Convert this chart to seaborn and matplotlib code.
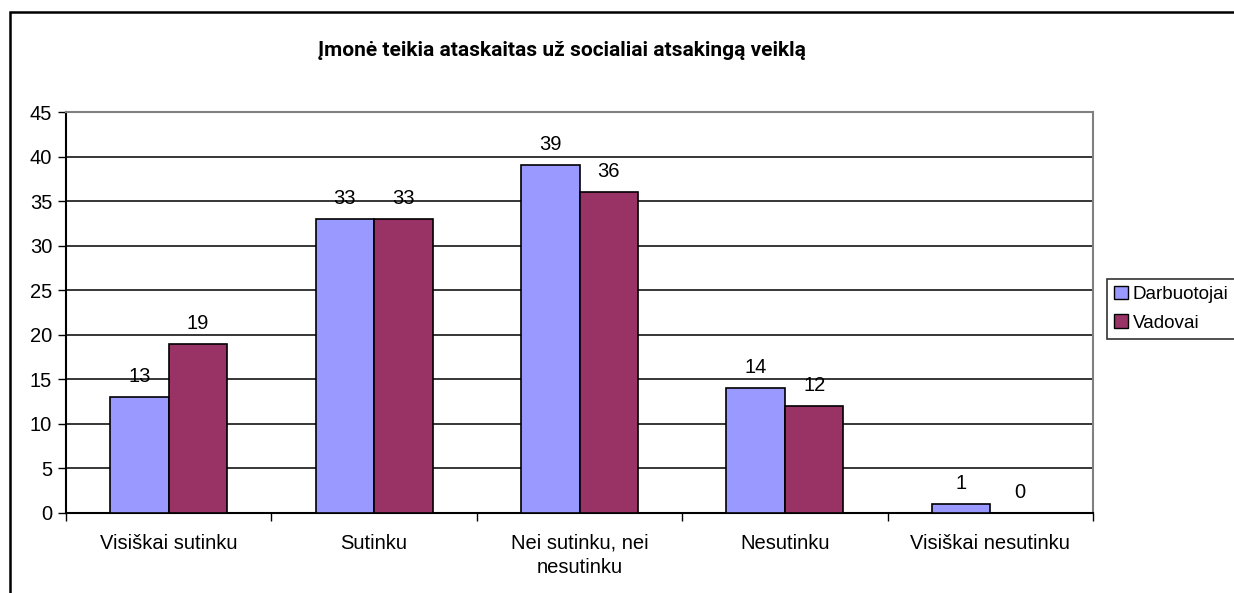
import matplotlib
matplotlib.use("Agg")
import matplotlib.pyplot as plt
import seaborn as sns
import pandas as pd
from matplotlib.patches import Rectangle

categories = ["Visiškai sutinku", "Sutinku", "Nei sutinku, nei\nnesutinku", "Nesutinku", "Visiškai nesutinku"]
darbuotojai = [13, 33, 39, 14, 1]
vadovai = [19, 33, 36, 12, 0]
series = ["Darbuotojai", "Vadovai"]
colors = ["#9999FF", "#993366"]
title = "Įmonė teikia ataskaitas už socialiai atsakingą veiklą"

df = pd.DataFrame({
    "cat": categories * 2,
    "val": darbuotojai + vadovai,
    "series": [series[0]] * len(categories) + [series[1]] * len(categories),
})

sns.set_style("white")
plt.rcParams["font.family"] = ["Liberation Sans", "DejaVu Sans"]
plt.rcParams["text.color"] = "black"
plt.rcParams["xtick.color"] = "black"
plt.rcParams["ytick.color"] = "black"
plt.rcParams["axes.labelcolor"] = "black"

W, H = 1234, 593
fig = plt.figure(figsize=(W / 100, H / 100), dpi=100)
ax = fig.add_axes([66 / W, 1 - 513 / H, (1093 - 66) / W, (513 - 112) / H])

sns.barplot(data=df, x="cat", y="val", hue="series", hue_order=series,
            palette=colors, order=categories, width=0.57, saturation=1,
            edgecolor="black", linewidth=1.2, ax=ax, legend=True, zorder=3)

ax.set_ylim(0, 45)
ax.set_xlim(-0.5, len(categories) - 0.5)
ax.set_yticks(range(0, 46, 5))
ax.tick_params(axis="y", labelsize=14.5, length=6, width=1, direction="out", left=True, colors="black", pad=4)
ax.set_xticks([i - 0.5 for i in range(len(categories) + 1)])
ax.set_xticklabels([])
ax.set_xticks(range(len(categories)), minor=True)
ax.set_xticklabels(categories, minor=True, fontsize=14.5, linespacing=1.35)
ax.tick_params(axis="x", which="major", length=6, width=1, direction="out", bottom=True, colors="black")
ax.tick_params(axis="x", which="minor", length=0, pad=15, colors="black")
ax.set_xlabel("")
ax.set_ylabel("")

for y in range(5, 45, 5):
    ax.axhline(y, color="black", linewidth=1.1, zorder=1)

for s in ["left", "bottom"]:
    ax.spines[s].set_color("black")
    ax.spines[s].set_linewidth(1.5)
    ax.spines[s].set_visible(True)
for s in ["top", "right"]:
    ax.spines[s].set_color("#808080")
    ax.spines[s].set_linewidth(1.5)
    ax.spines[s].set_visible(True)

for cont in ax.containers:
    ax.bar_label(cont, labels=[f"{int(v)}" for v in cont.datavalues], padding=8, fontsize=14.5, color="black")

ax.legend_.remove()
handles = [Rectangle((0, 0), 1, 1, facecolor=c, edgecolor="black", linewidth=1) for c in colors]
leg = fig.legend(handles, series, loc="upper left", bbox_to_anchor=(1107 / W, 1 - 279 / H),
                 frameon=True, fancybox=False, shadow=False, fontsize=13.6,
                 handlelength=0.75, handleheight=0.75, handletextpad=0.25,
                 borderpad=0.35, labelspacing=0.6, borderaxespad=0)
leg.get_frame().set_edgecolor("black")
leg.get_frame().set_linewidth(1.2)
for t in leg.get_texts():
    t.set_color("black")

fig.text(562 / W, 1 - 51 / H, title, ha="center", va="center", fontsize=15, fontweight="bold",
         color="black", family=["Roboto", "Liberation Sans", "DejaVu Sans"])

fig.patches.append(Rectangle((10 / W, -0.1), 1.2, (1 - 12 / H) + 0.1, transform=fig.transFigure,
                             fill=False, edgecolor="black", linewidth=1.8))

fig.savefig("out.png", dpi=100)
